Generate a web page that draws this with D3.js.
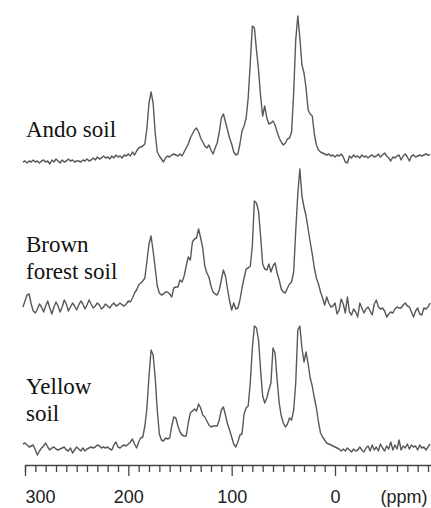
<!DOCTYPE html>
<html>
<head>
<meta charset="utf-8">
<script src="https://cdn.jsdelivr.net/npm/d3@7"></script>
<style>
  body { margin: 0; background: #fff; }
  svg { display: block; }
  .soil-label { font-family: "Liberation Serif", "Times New Roman", "DejaVu Serif", serif; font-size: 23px; fill: #111; }
  .ppm-text { font-family: "Liberation Sans", Arial, sans-serif; font-size: 18px; fill: #222; }
</style>
</head>
<body>
<div id="chart"></div>
<script>
(function() {

	// chemical shift grid (ppm), 302 down to -92 in steps of 2
	const ppm = d3.range(302, -93, -2);

	// intensities, one value per ppm point (arbitrary units)
	const andoSoil = [
		-4,-3,-5,-3,-4,-2,-4,-3,-5,-3,
		-2,-4,-3,-6,-2,-4,-1,-3,-5,-2,
		-4,-3,-1,-3,-2,-4,-3,-3,-4,-2,
		-3,-1,-3,-2,0,-2,1,-1,0,2,
		0,1,-1,2,0,3,1,2,0,3,
		2,4,2,6,3,7,10,11,12,14,
		30,55,66,55,25,6,2,-1,-4,0,
		2,1,3,4,3,2,4,2,6,10,
		14,20,24,28,30,26,20,16,12,10,
		13,8,4,10,15,26,40,44,36,28,
		20,14,6,3,4,14,27,32,40,60,
		95,132,130,108,88,62,42,52,40,34,
		35,37,33,26,20,16,13,15,19,20,
		26,65,118,142,120,93,85,70,48,44,
		42,24,13,8,6,5,4,3,4,2,
		3,1,3,2,4,1,-4,-5,2,0,
		3,1,2,0,3,1,2,0,2,3,
		1,2,4,1,3,5,2,0,-3,1,
		0,2,3,-2,2,4,1,-3,2,3,
		1,2,3,2,3,4,3,3
	];

	const brownForestSoil = [
		-1,5,11,12,2,-5,-7,-3,2,-1,
		-6,0,5,-2,-8,-1,4,0,-6,-1,
		6,2,-5,-1,3,0,-4,1,5,2,
		-3,1,6,2,-2,0,3,1,-3,-1,
		2,0,-2,1,3,0,1,3,1,0,
		2,5,4,8,13,16,21,23,25,28,
		45,62,70,55,38,20,13,11,12,14,
		14,12,9,18,19,19,26,24,30,40,
		49,46,64,67,68,77,68,58,40,33,
		29,20,14,12,11,16,26,36,30,17,
		5,-4,3,-3,-2,6,18,28,37,38,
		40,60,105,103,95,70,42,37,36,42,
		34,40,43,33,26,17,14,13,18,22,
		24,34,75,112,137,110,99,90,77,64,
		52,38,28,22,14,8,1,9,3,-1,
		0,3,-8,-4,7,2,-7,9,-6,-9,
		-3,-6,-11,3,-2,-7,-3,-1,-5,-9,
		2,6,-1,-3,-2,-5,-11,-8,-6,-7,
		-3,-1,-2,-2,1,3,0,-1,-6,-11,
		-5,-2,-8,-9,-2,-3,-1,3
	];

	const yellowSoil = [
		4,5,3,1,2,3,-2,-7,-3,0,
		2,5,1,-2,0,1,-1,-2,-1,0,
		1,-2,-3,0,-5,-2,1,-1,-3,0,
		-3,-1,0,1,0,1,3,2,0,1,
		0,1,-1,-2,3,6,1,0,2,3,
		2,4,6,9,4,0,6,10,11,22,
		40,72,98,93,70,38,14,8,7,10,
		9,10,22,31,30,22,16,13,12,12,
		25,35,37,39,37,44,40,33,31,27,
		23,21,22,22,22,28,38,41,33,24,
		18,11,4,1,6,13,14,34,40,42,
		65,100,122,120,108,78,52,45,50,58,
		65,100,95,68,45,32,25,21,24,30,
		28,38,65,118,122,100,86,96,84,70,
		62,50,40,26,15,11,8,5,4,3,
		2,1,0,-1,-3,-1,-3,0,-2,-4,
		-1,-3,-2,1,-2,-4,0,2,-3,3,
		-2,1,-3,4,0,-3,2,-1,6,-2,
		3,-1,8,-2,2,0,4,-1,3,1,
		2,-2,3,0,1,-2,1,4
	];

	const spectra = [
		{ label: ["Ando soil"], values: andoSoil },
		{ label: ["Brown", "forest soil"], values: brownForestSoil },
		{ label: ["Yellow", "soil"], values: yellowSoil }
	];

	const axisLabels = [300, 200, 100, 0];

	const width = 431;
	const height = 508;
	// baseline of each trace and the first line of its label
	const baselines = [158, 306, 448];
	const labelY = [137, 252, 394];
	const lineGap = 27;

	const svg = d3.select("#chart").append("svg")
		.attr("width", width)
		.attr("height", height);

	const x = d3.scaleLinear().domain([300, 0]).range([25, 335]);
	const y = d3.scaleLinear().domain([0, 150]).range([0, -150]);

	const line = d3.line()
		.x((d, i) => x(ppm[i]))
		.y(d => y(d));

	spectra.forEach(function(s, k) {
		const g = svg.append("g")
			.attr("transform", "translate(0," + baselines[k] + ")");

		g.append("path")
			.datum(s.values)
			.attr("d", line)
			.attr("fill", "none")
			.attr("stroke", "#585858")
			.attr("stroke-width", 1.4)
			.attr("stroke-linejoin", "round");

		const t = svg.append("text")
			.attr("class", "soil-label")
			.attr("x", 26)
			.attr("y", labelY[k]);
		s.label.forEach(function(l, j) {
			t.append("tspan")
				.attr("x", 26)
				.attr("dy", j === 0 ? 0 : lineGap)
				.text(l);
		});
	});

	// ppm axis
	const xAxisScale = x.copy().domain([300, -93]).range([x(300), x(-93)]);
	const axis = d3.axisBottom(xAxisScale)
		.tickValues(d3.range(300, -93, -10))
		.tickSizeOuter(0)
		.tickSize(7)
		.tickFormat(d => axisLabels.includes(d) ? d : "");

	const ax = svg.append("g")
		.attr("transform", "translate(0,465)")
		.call(axis);

	ax.attr("font-family", null).attr("font-size", null);
	ax.select(".domain").attr("stroke", "#444").attr("stroke-width", 1.3);
	ax.selectAll(".tick line")
		.attr("stroke", "#444")
		.attr("stroke-width", 1.3)
		.attr("y2", d => axisLabels.includes(d) ? 11 : 7);
	ax.selectAll(".tick text")
		.attr("class", "ppm-text")
		.attr("y", 25)
		.attr("dy", "0.71em")
		.attr("fill", null)
		.attr("text-anchor", d => d === 300 ? "start" : "middle");

	svg.append("text")
		.attr("class", "ppm-text")
		.attr("x", 404)
		.attr("y", 503)
		.attr("text-anchor", "middle")
		.text("(ppm)");

})();
</script>
</body>
</html>
